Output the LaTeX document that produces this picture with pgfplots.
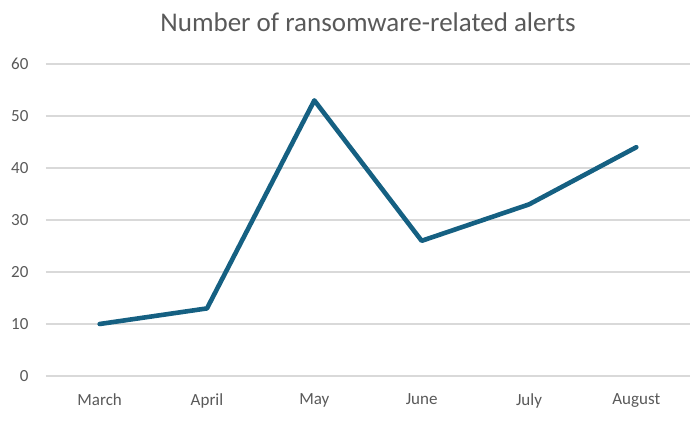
\documentclass[border=0pt]{standalone}
\usepackage{pgfplots}
\pgfplotsset{compat=1.18}
\usepackage{fontspec}
\setmainfont{Carlito}
\definecolor{txtc}{HTML}{595959}
\definecolor{gridc}{HTML}{D9D9D9}
\definecolor{linec}{HTML}{156082}
\begin{document}
\begin{tikzpicture}
\path[use as bounding box] (-46pt,-45pt) rectangle (650pt,376pt);
\begin{axis}[
  at={(0pt,0pt)}, anchor=south west,
  scale only axis, width=644pt, height=312pt,
  xmin=-0.5, xmax=5.5, ymin=0, ymax=60,
  xtick={0,1,2,3,4,5},
  xticklabels={March,April,May,June,July,August},
  ytick={0,10,20,30,40,50,60},
  axis line style={draw=none},
  xmajorgrids=false, ymajorgrids=true, grid style={draw=gridc, line width=1.2pt},
  major tick length=0pt,
  tick label style={font=\fontsize{17}{18}\selectfont, text=txtc},
  /pgf/number format/assume math mode=true,
  xticklabel style={yshift=-14pt},
  yticklabel style={xshift=-14pt},
  title={\fontsize{27}{30}\selectfont Number of ransomware-related alerts},
  title style={text=txtc, yshift=23pt},
  clip=false,
]
\addplot[linec, line width=4.6pt, line join=round, line cap=round] coordinates {
(0,10) (1,13) (2,53) (3,26) (4,33) (5,44)};
\end{axis}
\end{tikzpicture}
\end{document}
